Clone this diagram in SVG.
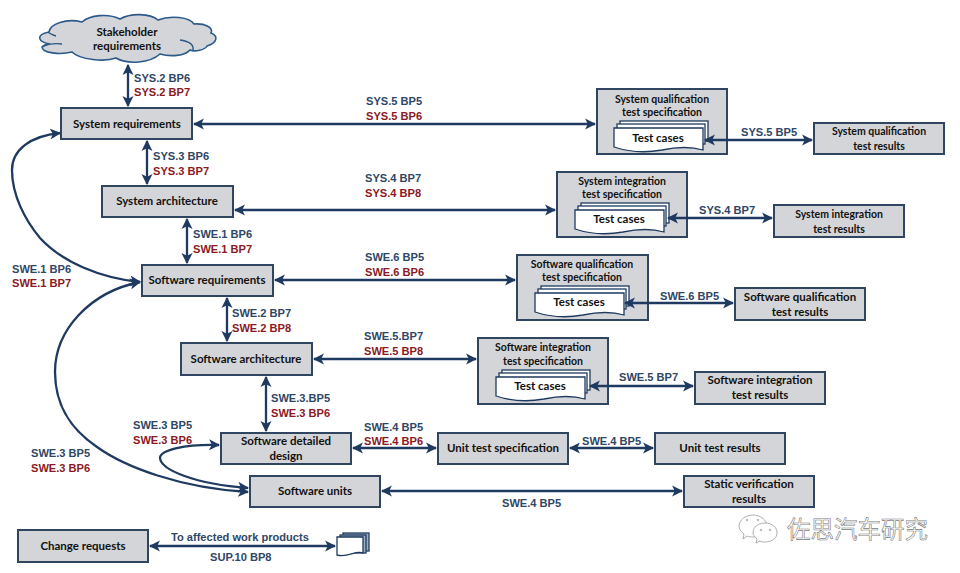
<svg xmlns="http://www.w3.org/2000/svg" xmlns:xlink="http://www.w3.org/1999/xlink" width="960" height="573" viewBox="0 0 960 573">
<style>
.b{fill:#d4d5d8;stroke:#2f4560;stroke-width:2}
.n{font:bold 11.5px Lato,"Open Sans",sans-serif;fill:#111;text-anchor:middle}
.l{font:bold 11.1px "Liberation Sans",Arial,sans-serif;fill:#2f4766}
.r{font:bold 11.1px "Liberation Sans",Arial,sans-serif;fill:#8b1a1f}
.c{fill:none;stroke:#1f3a60;stroke-width:2.3;marker-start:url(#s);marker-end:url(#e)}
.p{fill:#fff;stroke:#1f3a60;stroke-width:1.3}
</style>
<defs>
<marker id="e" viewBox="0 0 10 10" refX="9" refY="5" markerWidth="4.8" markerHeight="4.8" orient="auto" markerUnits="strokeWidth"><path d="M0 0L10 5L0 10L2.5 5Z" fill="#1f3a60"/></marker>
<marker id="s" viewBox="0 0 10 10" refX="1" refY="5" markerWidth="4.8" markerHeight="4.8" orient="auto" markerUnits="strokeWidth"><path d="M10 0L0 5L10 10L7.5 5Z" fill="#1f3a60"/></marker>
<g id="stack">
<rect class="p" x="6" y="0" width="88" height="20"/>
<rect class="p" x="3" y="3" width="88" height="20"/>
<path class="p" d="M0 7H89V29C75 25 62 26 48 29C32 32 15 31 0 26Z"/>
</g>
</defs>
<rect width="960" height="573" fill="#fff"/>
<g id="cloud"><path d="M49 32C50 24 66 18 82 22C90 15 108 13 120 19C130 13 150 13 158 20C170 15 190 17 194 24C205 23 214 28 211 33C219 36 217 43 207 46C205 50 195 52 190 50C185 56 170 57 160 54C150 63 128 65 116 58C105 62 80 60 72 52C60 55 42 53 42 47C45 44 48 44 50 44C38 42 35 35 49 32Z" fill="#d4d5d8" stroke="#2b5a8a" stroke-width="1.6"/>
<path d="M42 47C48 44 55 43 62 44M180 40C188 41 194 44 193 50M48 32C50 34 53 35 56 36" fill="none" stroke="#2b5a8a" stroke-width="1.4"/>
<text class="n" x="127" y="36">Stakeholder</text><text class="n" x="127" y="50">requirements</text></g>
<g id="sysreq"><rect class="b" x="61" y="108" width="131" height="31"/><text class="n" x="127" y="128">System requirements</text></g>
<g id="sysarch"><rect class="b" x="102" y="186" width="131" height="31"/><text class="n" x="167" y="205">System architecture</text></g>
<g id="swreq"><rect class="b" x="142" y="265" width="131" height="31"/><text class="n" x="207" y="284">Software requirements</text></g>
<g id="swarch"><rect class="b" x="181" y="343" width="131" height="32"/><text class="n" x="246" y="363">Software architecture</text></g>
<g id="swdd"><rect class="b" x="221" y="433" width="130" height="31"/><text class="n" x="286" y="445">Software detailed</text><text class="n" x="286" y="460">design</text></g>
<g id="swunits"><rect class="b" x="250" y="476" width="130" height="31"/><text class="n" x="315" y="495">Software units</text></g>
<g id="change"><rect class="b" x="18" y="530" width="130" height="32"/><text class="n" x="83" y="550">Change requests</text></g>
<g id="uts"><rect class="b" x="438" y="433" width="130" height="31"/><text class="n" x="503" y="452">Unit test specification</text></g>
<g id="utr"><rect class="b" x="655" y="433" width="130" height="31"/><text class="n" x="720" y="452">Unit test results</text></g>
<g id="static"><rect class="b" x="684" y="476" width="130" height="31"/><text class="n" x="749" y="488">Static verification</text><text class="n" x="749" y="503">results</text></g>
<g id="sqs"><rect class="b" x="597" y="89" width="130" height="65"/><text class="n" x="662" y="103" style="font-size:10.5px">System qualification</text><text class="n" x="662" y="116" style="font-size:10.5px">test specification</text><use xlink:href="#stack" href="#stack" x="614" y="121"/><text class="n" x="658" y="142">Test cases</text></g>
<g id="sqr"><rect class="b" x="814" y="123" width="130" height="31"/><text class="n" x="879" y="135" style="font-size:10.5px">System qualification</text><text class="n" x="879" y="150" style="font-size:10.5px">test results</text></g>
<g id="sis"><rect class="b" x="557" y="172" width="130" height="65"/><text class="n" x="622" y="185" style="font-size:10.5px">System integration</text><text class="n" x="622" y="198" style="font-size:10.5px">test specification</text><use xlink:href="#stack" href="#stack" x="575" y="203"/><text class="n" x="619" y="223">Test cases</text></g>
<g id="sir"><rect class="b" x="774" y="205" width="130" height="32"/><text class="n" x="839" y="218" style="font-size:10.5px">System integration</text><text class="n" x="839" y="233" style="font-size:10.5px">test results</text></g>
<g id="qts"><rect class="b" x="517" y="255" width="131" height="65"/><text class="n" x="582" y="268" style="font-size:10.5px">Software qualification</text><text class="n" x="582" y="281" style="font-size:10.5px">test specification</text><use xlink:href="#stack" href="#stack" x="535" y="286"/><text class="n" x="579" y="306">Test cases</text></g>
<g id="qtr"><rect class="b" x="735" y="288" width="130" height="32"/><text class="n" x="800" y="301">Software qualification</text><text class="n" x="800" y="316">test results</text></g>
<g id="its"><rect class="b" x="478" y="338" width="130" height="66"/><text class="n" x="543" y="351" style="font-size:10.5px">Software integration</text><text class="n" x="543" y="365" style="font-size:10.5px">test specification</text><use xlink:href="#stack" href="#stack" x="496" y="370"/><text class="n" x="540" y="390">Test cases</text></g>
<g id="itr"><rect class="b" x="695" y="372" width="130" height="32"/><text class="n" x="760" y="384">Software integration</text><text class="n" x="760" y="399">test results</text></g>
<g id="affected"><rect class="p" x="343" y="533" width="26" height="18" style="fill:#9fb0c4"/><rect class="p" x="340" y="535" width="26" height="18" style="fill:#9fb0c4"/><path class="p" d="M337 537H363V553C355 550 348 558 337 555Z"/></g>
<g id="connectors">
<path class="c" d="M128 65V106"/>
<path class="c" d="M147 141V184"/>
<path class="c" d="M187 219V263"/>
<path class="c" d="M227 298V341"/>
<path class="c" d="M266 377V431"/>
<path class="c" d="M194 124H595"/>
<path class="c" d="M235 210H555"/>
<path class="c" d="M275 280H515"/>
<path class="c" d="M314 359H476"/>
<path class="c" d="M705 140H812"/>
<path class="c" d="M668 218H772"/>
<path class="c" d="M625 303H733"/>
<path class="c" d="M590 386H693"/>
<path class="c" d="M353 448H436"/>
<path class="c" d="M570 448H653"/>
<path class="c" d="M382 491H682"/>
<path class="c" d="M150 546H335"/>
<path class="c" d="M60 133C30 136 12 150 12 170C12 195 25 220 40 238C62 262 100 278 140 282"/>
<path class="c" d="M140 282C90 292 55 330 55 372C55 410 75 432 97 447C125 467 180 488 248 492"/>
<path class="c" d="M219 445C185 444 160 450 160 458C161 470 195 484 248 488"/>
</g>
<g id="labels">
<text class="l" x="134" y="82">SYS.2 BP6</text><text class="r" x="134" y="96">SYS.2 BP7</text>
<text class="l" x="153" y="160">SYS.3 BP6</text><text class="r" x="153" y="175">SYS.3 BP7</text>
<text class="l" x="193" y="238">SWE.1 BP6</text><text class="r" x="193" y="253">SWE.1 BP7</text>
<text class="l" x="12" y="273">SWE.1 BP6</text><text class="r" x="12" y="287">SWE.1 BP7</text>
<text class="l" x="232" y="317">SWE.2 BP7</text><text class="r" x="232" y="332">SWE.2 BP8</text>
<text class="l" x="271" y="402">SWE.3.BP5</text><text class="r" x="271" y="417">SWE.3 BP6</text>
<text class="l" x="133" y="429">SWE.3 BP5</text><text class="r" x="133" y="444">SWE.3 BP6</text>
<text class="l" x="31" y="457">SWE.3 BP5</text><text class="r" x="31" y="472">SWE.3 BP6</text>
<text class="l" x="366" y="105">SYS.5 BP5</text><text class="r" x="366" y="120">SYS.5 BP6</text>
<text class="l" x="365" y="182">SYS.4 BP7</text><text class="r" x="365" y="197">SYS.4 BP8</text>
<text class="l" x="365" y="261">SWE.6 BP5</text><text class="r" x="365" y="276">SWE.6 BP6</text>
<text class="l" x="364" y="340">SWE.5.BP7</text><text class="r" x="364" y="355">SWE.5 BP8</text>
<text class="l" x="364" y="431">SWE.4 BP5</text><text class="r" x="364" y="445">SWE.4 BP6</text>
<text class="l" x="741" y="136">SYS.5 BP5</text>
<text class="l" x="699" y="214">SYS.4 BP7</text>
<text class="l" x="660" y="300">SWE.6 BP5</text>
<text class="l" x="619" y="381">SWE.5 BP7</text>
<text class="l" x="582" y="445">SWE.4 BP5</text>
<text class="l" x="502" y="507">SWE.4 BP5</text>
<text class="l" x="171" y="541">To affected work products</text>
<text class="l" x="210" y="561">SUP.10 BP8</text>
</g>
<g id="watermark" fill="#fff" stroke="#9a9a9a" stroke-width="0.8">
<path d="M739 526C739 520 746 515 753 515C760 515 767 520 767 526C767 532 760 537 753 537C751 537 749 537 747 536L743 539L744 534C741 532 739 529 739 526Z"/>
<path d="M753 533C753 527 758 523 765 523C772 523 777 527 777 533C777 538 772 542 765 542C763 542 761 542 760 541L756 543L757 539C755 537 753 535 753 533Z"/>
<circle cx="747" cy="520" r=".8"/><circle cx="758" cy="520" r=".8"/><circle cx="761" cy="530" r=".8"/><circle cx="770" cy="530" r=".8"/>
<text x="787" y="538" style="font:23.5px 'Noto Sans CJK SC',sans-serif" stroke="#808080" stroke-width="0.6" fill="#fff">佐思汽车研究</text>
</g>
</svg>
